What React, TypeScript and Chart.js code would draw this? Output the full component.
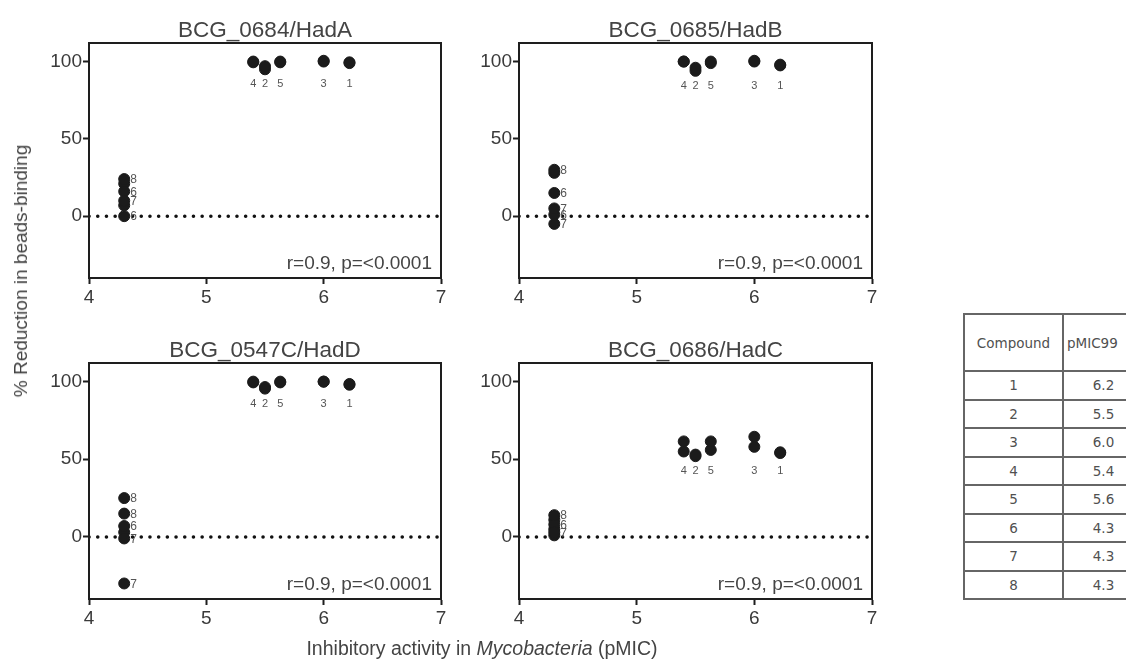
import React, { useEffect, useRef } from "react";
import { Chart, registerables } from "chart.js";

Chart.register(...registerables);

// ---------- data ----------
const compounds = ["1", "2", "3", "4", "5", "6", "7", "8"];
const pMIC = [6.22, 5.5, 6.0, 5.4, 5.63, 4.3, 4.3, 4.3];
const tablePMIC = ["6.2", "5.5", "6.0", "5.4", "5.6", "4.3", "4.3", "4.3"];

const hadA_rep1 = [99.5, 97, 100.5, 100, 100, 16, 10, 24];
const hadA_rep2 = [99, 95, 100, 99.5, 99.5, 0, 7, 21];

const hadB_rep1 = [98, 96, 100.5, 100, 100, 15, 5, 30];
const hadB_rep2 = [97.5, 94, 100, 100, 99, 1, -5, 28];

const hadD_rep1 = [98.5, 96.5, 100, 100, 100, 7, -1, 25];
const hadD_rep2 = [98, 95.5, 100, 99.5, 99.5, 3, -30, 15];

const hadC_rep1 = [54.5, 53, 64.5, 61.5, 61.5, 8, 3, 14];
const hadC_rep2 = [54, 52, 58, 55, 56, 5, 1, 11];

const panelTitles = ["BCG_0684/HadA", "BCG_0685/HadB", "BCG_0547C/HadD", "BCG_0686/HadC"];
const statsText = "r=0.9, p=<0.0001";
const xTicks = [4, 5, 6, 7];
const yTicks = [0, 50, 100];

const FONT = '"Liberation Sans", Arial, Helvetica, sans-serif';
const DOT = "#1b1b1b";
const AXIS = "#1e1e1e";
const TEXT = "#3a3a3a";

type PanelGeom = {
  left: number;
  top: number;
  width: number;
  height: number;
  yAxisWidth: number;
  padRight: number;
  padTop: number;
  padBottom: number;
  xAxisHeight: number;
};

function Panel(props: { title: string; rep1: number[]; rep2: number[]; g: PanelGeom }) {
  const ref = useRef<HTMLCanvasElement | null>(null);
  const { title, rep1, rep2, g } = props;

  useEffect(() => {
    if (!ref.current) return;
    const pts = (rep: number[]) => rep.map((v, i) => ({ x: pMIC[i], y: v }));

    const decor = {
      id: "panelDecor",
      afterDraw(chart: any) {
        const { ctx, chartArea: a, scales } = chart;
        const xs = scales.x;
        const ys = scales.y;
        ctx.save();
        // frame
        ctx.strokeStyle = AXIS;
        ctx.lineWidth = 2;
        ctx.strokeRect(a.left, a.top, a.right - a.left, a.bottom - a.top);
        // title
        ctx.fillStyle = "#444";
        ctx.font = `22.5px ${FONT}`;
        ctx.textAlign = "center";
        ctx.textBaseline = "alphabetic";
        ctx.fillText(title, (a.left + a.right) / 2, a.top - 6);
        // stats
        ctx.font = `19px ${FONT}`;
        ctx.textAlign = "right";
        ctx.fillStyle = "#444";
        ctx.fillText(statsText, a.right - 9, a.bottom - 9);
        // compound labels
        const hi: number[] = [];
        const lo: number[] = [];
        pMIC.forEach((p, i) => (p > 5 ? hi.push(i) : lo.push(i)));
        let maxPix = -Infinity;
        hi.forEach((i) => {
          const py = ys.getPixelForValue(Math.min(rep1[i], rep2[i]));
          if (py > maxPix) maxPix = py;
        });
        ctx.fillStyle = "#555";
        ctx.font = `11px ${FONT}`;
        ctx.textAlign = "center";
        ctx.textBaseline = "middle";
        hi.forEach((i) => {
          ctx.fillText(compounds[i], xs.getPixelForValue(pMIC[i]), maxPix + 15);
        });
        ctx.font = `12px ${FONT}`;
        ctx.textAlign = "left";
        lo.forEach((i) => {
          const vals = Math.abs(rep1[i] - rep2[i]) > 4 ? [rep1[i], rep2[i]] : [rep1[i]];
          vals.forEach((v) => {
            ctx.fillText(compounds[i], xs.getPixelForValue(pMIC[i]) + 6, ys.getPixelForValue(v) + 1);
          });
        });
        ctx.restore();
      },
    };

    const chart = new Chart(ref.current, {
      type: "scatter",
      data: {
        datasets: [
          {
            data: pts(rep1),
            backgroundColor: DOT,
            borderColor: DOT,
            pointRadius: 5.5,
            borderWidth: 1,
            order: 1,
          },
          {
            data: pts(rep2),
            backgroundColor: DOT,
            borderColor: DOT,
            pointRadius: 5.5,
            borderWidth: 1,
            order: 1,
          },
          {
            type: "line",
            data: [
              { x: xTicks[0], y: 0 },
              { x: xTicks[xTicks.length - 1], y: 0 },
            ],
            borderColor: "#111",
            borderWidth: 3.5,
            borderDash: [0.1, 8.6],
            borderCapStyle: "round",
            pointRadius: 0,
            showLine: true,
            order: 2,
          } as any,
        ],
      },
      options: {
        responsive: false,
        animation: false,
        events: [],
        layout: {
          padding: { left: 0, right: g.padRight, top: g.padTop, bottom: g.padBottom },
        },
        plugins: { legend: { display: false }, tooltip: { enabled: false }, title: { display: false } },
        scales: {
          x: {
            type: "linear",
            min: xTicks[0],
            max: xTicks[xTicks.length - 1],
            afterBuildTicks: (s: any) => {
              s.ticks = xTicks.map((v) => ({ value: v }));
            },
            afterFit: (s: any) => {
              s.height = g.xAxisHeight;
            },
            ticks: { color: TEXT, font: { family: FONT, size: 19 }, padding: 2, maxRotation: 0 },
            grid: { drawOnChartArea: false, drawTicks: true, tickLength: 6, tickColor: AXIS, tickWidth: 2 },
            border: { display: true, color: AXIS, width: 2 },
          },
          y: {
            type: "linear",
            min: -40,
            max: 112,
            afterBuildTicks: (s: any) => {
              s.ticks = yTicks.map((v) => ({ value: v }));
            },
            afterFit: (s: any) => {
              s.width = g.yAxisWidth;
            },
            ticks: { color: TEXT, font: { family: FONT, size: 19 }, padding: 1 },
            grid: { drawOnChartArea: false, drawTicks: true, tickLength: 6, tickColor: AXIS, tickWidth: 2 },
            border: { display: true, color: AXIS, width: 2 },
          },
        },
      },
      plugins: [decor],
    } as any);
    return () => chart.destroy();
  }, []);

  return (
    <canvas
      ref={ref}
      width={g.width}
      height={g.height}
      style={{ position: "absolute", left: g.left, top: g.top, width: g.width, height: g.height }}
    />
  );
}

const geoms: PanelGeom[] = [
  { left: 0, top: 0, width: 460, height: 320, yAxisWidth: 89, padRight: 19, padTop: 43, padBottom: 12, xAxisHeight: 30 },
  { left: 460, top: 0, width: 460, height: 320, yAxisWidth: 59, padRight: 48, padTop: 43, padBottom: 12, xAxisHeight: 30 },
  { left: 0, top: 320, width: 460, height: 320, yAxisWidth: 89, padRight: 19, padTop: 43, padBottom: 11, xAxisHeight: 30 },
  { left: 460, top: 320, width: 460, height: 320, yAxisWidth: 59, padRight: 48, padTop: 43, padBottom: 11, xAxisHeight: 30 },
];

const panelData = [
  [hadA_rep1, hadA_rep2],
  [hadB_rep1, hadB_rep2],
  [hadD_rep1, hadD_rep2],
  [hadC_rep1, hadC_rep2],
];

export default function App() {
  const cell: React.CSSProperties = {
    border: "2px solid #666",
    padding: 0,
    height: 26.5,
    textAlign: "center",
    verticalAlign: "middle",
  };
  return (
    <div
      style={{
        position: "fixed",
        left: 0,
        top: 0,
        width: 1126,
        height: 664,
        overflow: "hidden",
        background: "#fff",
        fontFamily: FONT,
      }}
    >
      {geoms.map((g, i) => (
        <Panel key={i} title={panelTitles[i]} rep1={panelData[i][0]} rep2={panelData[i][1]} g={g} />
      ))}
      <div
        style={{
          position: "absolute",
          left: 21,
          top: 271,
          transform: "translate(-50%, -50%) rotate(-90deg)",
          whiteSpace: "nowrap",
          fontSize: 19,
          color: "#444",
        }}
      >
        % Reduction in beads-binding
      </div>
      <div
        style={{
          position: "absolute",
          left: 482,
          top: 648,
          transform: "translate(-50%, -50%)",
          whiteSpace: "nowrap",
          fontSize: 19.5,
          color: "#444",
        }}
      >
        Inhibitory activity in <i>Mycobacteria</i> (pMIC)
      </div>
      <table
        style={{
          position: "absolute",
          left: 963,
          top: 313,
          borderCollapse: "collapse",
          fontFamily: '"DejaVu Sans", Verdana, sans-serif',
          fontSize: 13.5,
          color: "#505050",
          tableLayout: "fixed",
          width: 180,
        }}
      >
        <colgroup>
          <col style={{ width: 99 }} />
          <col style={{ width: 81 }} />
        </colgroup>
        <tbody>
          <tr>
            <td style={{ ...cell, height: 55 }}>Compound</td>
            <td style={{ ...cell, height: 55, textAlign: "left", paddingLeft: 3 }}>pMIC99</td>
          </tr>
          {compounds.map((c, i) => (
            <tr key={c}>
              <td style={cell}>{c}</td>
              <td style={cell}>{tablePMIC[i]}</td>
            </tr>
          ))}
        </tbody>
      </table>
    </div>
  );
}
